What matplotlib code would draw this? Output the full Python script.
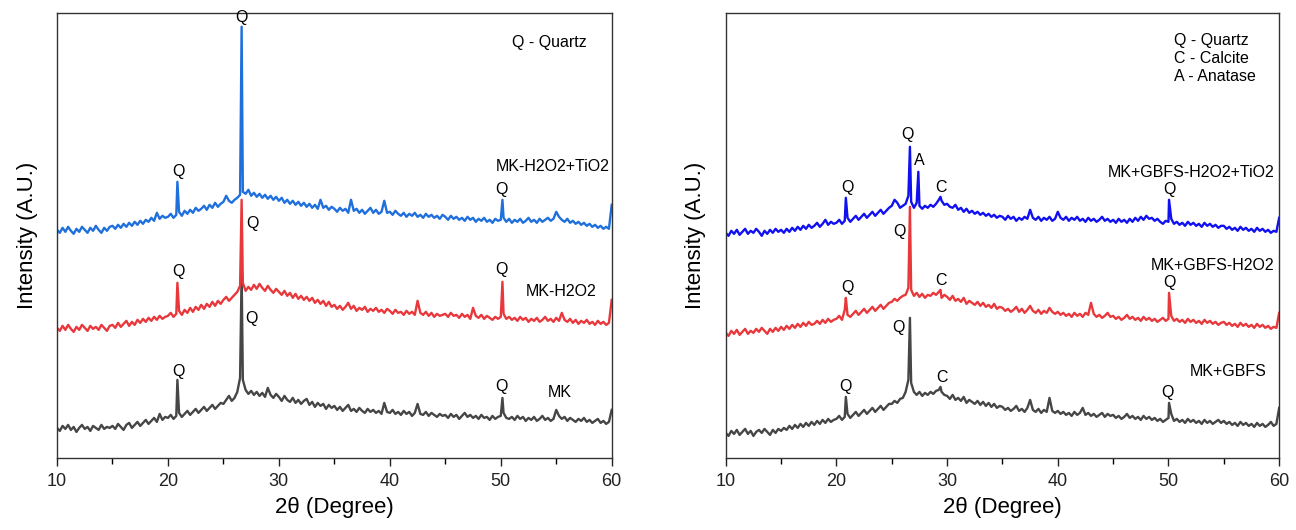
import numpy as np
import matplotlib
matplotlib.use("Agg")
import matplotlib.pyplot as plt

plt.rcParams['font.family'] = ['Liberation Sans', 'DejaVu Sans']

# 2theta grid (deg), 0.25 step, and intensities (A.U.)
two_theta = np.arange(10, 60.001, 0.25)

# ---- left panel ----
mk = [
    30, 27, 32, 29, 33, 28, 31, 26, 30, 33, 29, 31, 27, 32, 30, 28, 33, 29, 31, 30,
    32, 29, 34, 31, 28, 33, 35, 30, 33, 36, 32, 35, 38, 34, 37, 40, 36, 44, 38, 41,
    40, 43, 39, 42, 45, 41, 44, 47, 43, 46, 49, 45, 48, 51, 47, 50, 53, 49, 52, 55,
    54, 58, 62, 57, 60, 66, 80, 78, 68, 64, 67, 63, 66, 62, 65, 61, 70, 63, 60, 64,
    61, 57, 62, 58, 56, 60, 55, 58, 54, 57, 59, 53, 56, 51, 55, 52, 54, 49, 53, 50,
    52, 48, 51, 47, 50, 53, 47, 49, 46, 50, 47, 45, 49, 46, 48, 45, 47, 44, 55, 46,
    45, 48, 44, 46, 43, 47, 44, 46, 42, 45, 54, 44, 43, 46, 42, 45, 43, 41, 44, 42,
    43, 40, 44, 41, 43, 39, 42, 45, 41, 43, 40, 42, 39, 43, 40, 41, 38, 42, 39, 41,
    42, 45, 40, 39, 41, 38, 42, 39, 41, 37, 40, 38, 41, 37, 39, 42, 38, 40, 37, 39,
    48, 42, 39, 41, 37, 40, 38, 36, 39, 37, 40, 36, 38, 35, 37, 39, 35, 37, 34, 36,
    48]
mk_peak_x = [20.85, 26.64, 50.15]
mk_peak_y = [78, 185, 60]

mk_h2o2 = [
    130, 127, 132, 128, 133, 129, 126, 131, 128, 133, 130, 127, 132, 129, 131, 128, 133, 130, 127, 132,
    133, 130, 135, 131, 134, 137, 132, 136, 133, 138, 135, 139, 136, 140, 137, 141, 138, 142, 139, 141,
    142, 145, 141, 144, 147, 143, 148, 145, 150, 146, 151, 148, 153, 149, 154, 151, 156, 152, 157, 154,
    158, 161, 157, 160, 163, 166, 172, 175, 167, 171, 168, 173, 169, 174, 170, 167, 172, 168, 165, 169,
    166, 163, 167, 162, 165, 160, 164, 159, 162, 158, 161, 157, 160, 155, 158, 154, 157, 152, 156, 151,
    153, 149, 152, 148, 151, 155, 149, 152, 147, 150, 148, 151, 146, 149, 147, 150, 146, 148, 145, 149,
    147, 144, 148, 145, 146, 143, 147, 144, 146, 143, 157, 145, 143, 146, 142, 145, 141, 144, 142, 143,
    144, 141, 145, 142, 143, 140, 144, 141, 143, 139, 150, 142, 140, 143, 139, 142, 140, 138, 141, 139,
    141, 144, 139, 141, 138, 140, 137, 141, 138, 140, 136, 139, 137, 140, 136, 138, 141, 137, 139, 136,
    140, 137, 145, 138, 136, 139, 135, 138, 134, 137, 135, 138, 134, 136, 133, 137, 134, 136, 133, 135,
    158]
mk_h2o2_peak_x = [20.85, 26.64, 50.15]
mk_h2o2_peak_y = [175, 258, 176]

mk_h2o2_tio2 = [
    228, 225, 230, 226, 231, 227, 224, 229, 226, 231, 228, 225, 230, 227, 232, 228, 225, 230, 227, 231,
    232, 229, 233, 230, 234, 231, 235, 232, 236, 233, 237, 234, 238, 236, 240, 237, 245, 239, 242, 240,
    241, 244, 240, 243, 246, 242, 247, 244, 248, 245, 250, 247, 249, 252, 248, 253, 250, 255, 251, 254,
    256, 262, 257, 255, 258, 260, 263, 266, 264, 268, 262, 265, 261, 264, 260, 263, 259, 262, 258, 261,
    257, 260, 255, 258, 254, 257, 253, 256, 252, 255, 251, 254, 250, 253, 249, 258, 250, 252, 248, 251,
    249, 246, 250, 247, 249, 245, 258, 247, 249, 245, 248, 244, 247, 250, 245, 248, 244, 246, 257, 245,
    246, 243, 247, 244, 242, 245, 241, 244, 242, 245, 241, 243, 240, 244, 241, 243, 240, 242, 239, 243,
    241, 238, 242, 239, 241, 238, 240, 237, 241, 238, 240, 236, 239, 237, 240, 236, 238, 235, 239, 237,
    238, 240, 236, 239, 235, 238, 236, 239, 235, 237, 240, 236, 238, 235, 239, 236, 238, 240, 237, 239,
    246, 241, 238, 236, 239, 235, 237, 234, 236, 233, 235, 232, 234, 231, 233, 230, 232, 229, 231, 229,
    253]
mk_h2o2_tio2_peak_x = [20.85, 26.64, 50.15]
mk_h2o2_tio2_peak_y = [276, 431, 258]

# ---- right panel ----
gb = [
    25, 22, 27, 24, 28, 23, 26, 29, 24, 27, 22, 26, 28, 25, 29, 26, 23, 28, 25, 29,
    27, 30, 28, 32, 29, 33, 30, 34, 31, 35, 32, 36, 33, 37, 34, 38, 35, 39, 36, 38,
    39, 42, 38, 41, 44, 40, 43, 46, 42, 45, 48, 44, 47, 50, 46, 49, 52, 48, 51, 54,
    54, 57, 55, 59, 60, 66, 78, 75, 66, 63, 66, 62, 65, 63, 66, 64, 67, 68, 66, 63,
    62, 59, 63, 58, 60, 57, 61, 55, 58, 56, 54, 57, 53, 56, 52, 55, 51, 54, 50, 52,
    51, 48, 50, 47, 49, 52, 47, 49, 46, 50, 58, 48, 46, 49, 45, 48, 46, 60, 47, 45,
    47, 44, 46, 43, 45, 42, 46, 43, 45, 50, 43, 45, 42, 44, 41, 43, 45, 41, 44, 42,
    43, 40, 42, 39, 41, 44, 40, 42, 39, 41, 38, 42, 39, 41, 38, 40, 37, 39, 36, 38,
    40, 44, 37, 39, 36, 38, 35, 39, 36, 38, 35, 37, 34, 38, 35, 37, 34, 36, 38, 35,
    37, 34, 36, 33, 35, 32, 36, 33, 35, 32, 34, 31, 35, 32, 34, 31, 33, 36, 32, 34,
    50]
gb_peak_x = [20.85, 26.64, 29.4, 50.05]
gb_peak_y = [61, 140, 71, 55]

gb_h2o2 = [
    125, 122, 127, 124, 128, 123, 126, 129, 124, 127, 125, 129, 126, 130, 127, 124, 129, 126, 130, 127,
    131, 128, 132, 129, 133, 130, 134, 131, 135, 132, 136, 133, 134, 137, 134, 138, 135, 139, 136, 138,
    139, 142, 138, 148, 143, 141, 144, 147, 143, 146, 149, 145, 148, 151, 147, 150, 153, 149, 152, 155,
    156, 159, 157, 160, 162, 163, 170, 168, 162, 165, 161, 164, 160, 163, 162, 165, 163, 166, 160, 163,
    161, 158, 162, 157, 159, 156, 160, 154, 157, 155, 153, 156, 152, 155, 151, 153, 150, 154, 149, 151,
    150, 147, 149, 146, 148, 151, 146, 149, 145, 148, 152, 147, 145, 148, 144, 147, 145, 150, 146, 144,
    146, 143, 145, 142, 144, 141, 145, 142, 144, 141, 145, 143, 155, 144, 141, 143, 140, 142, 145, 141,
    142, 139, 141, 138, 140, 143, 139, 141, 138, 140, 137, 141, 138, 140, 137, 139, 136, 138, 140, 137,
    139, 142, 137, 139, 136, 138, 135, 139, 136, 138, 135, 137, 134, 138, 135, 137, 134, 136, 133, 135,
    136, 133, 135, 132, 134, 131, 135, 132, 134, 131, 133, 130, 134, 131, 133, 130, 132, 129, 131, 130,
    145]
gb_h2o2_peak_x = [20.85, 26.64, 29.4, 50.05]
gb_h2o2_peak_y = [160, 251, 168, 165]

gb_h2o2_tio2 = [
    225, 222, 227, 224, 228, 223, 226, 229, 224, 227, 225, 229, 226, 222, 227, 224, 228, 225, 229, 226,
    228, 225, 229, 226, 230, 227, 231, 228, 232, 229, 233, 230, 232, 235, 231, 234, 238, 233, 236, 234,
    235, 238, 234, 237, 240, 236, 239, 242, 238, 241, 244, 240, 243, 246, 242, 245, 248, 244, 247, 250,
    252, 258, 255, 250, 252, 254, 262, 256, 250, 255, 252, 249, 252, 250, 253, 251, 254, 258, 257, 253,
    254, 251, 250, 253, 248, 250, 246, 249, 245, 247, 244, 246, 243, 245, 242, 244, 241, 243, 240, 242,
    241, 238, 242, 239, 241, 237, 240, 238, 241, 239, 248, 240, 238, 241, 237, 240, 238, 241, 237, 239,
    246, 240, 238, 241, 237, 240, 238, 241, 237, 239, 236, 240, 237, 239, 236, 238, 241, 237, 239, 236,
    238, 235, 239, 236, 238, 235, 239, 236, 240, 237, 241, 238, 242, 239, 240, 237, 239, 236, 234, 237,
    236, 239, 234, 236, 233, 235, 232, 236, 233, 235, 232, 234, 231, 235, 232, 234, 231, 233, 230, 232,
    232, 229, 231, 228, 230, 227, 231, 228, 230, 227, 229, 226, 230, 227, 229, 226, 228, 225, 227, 226,
    240]
gb_h2o2_tio2_peak_x = [20.85, 26.64, 27.4, 29.4, 50.05]
gb_h2o2_tio2_peak_y = [260, 311, 286, 261, 258]

grey = '#464646'
red = '#e8383c'
blue_l = '#1f6fdc'
blue_r = '#1010f0'


def trace(y, px, py):
    # merge the grid with the peak tips
    x = np.concatenate([two_theta, px])
    v = np.concatenate([np.asarray(y, float), py])
    order = np.argsort(x)
    return x[order], v[order]


fig = plt.figure(figsize=(12.96, 5.30), dpi=100)
ax1 = fig.add_axes([0.044, 0.136, 0.428, 0.840])
ax2 = fig.add_axes([0.560, 0.136, 0.427, 0.840])

left_series = [(mk, mk_peak_x, mk_peak_y, grey),
               (mk_h2o2, mk_h2o2_peak_x, mk_h2o2_peak_y, red),
               (mk_h2o2_tio2, mk_h2o2_tio2_peak_x, mk_h2o2_tio2_peak_y, blue_l)]
right_series = [(gb, gb_peak_x, gb_peak_y, grey),
                (gb_h2o2, gb_h2o2_peak_x, gb_h2o2_peak_y, red),
                (gb_h2o2_tio2, gb_h2o2_tio2_peak_x, gb_h2o2_tio2_peak_y, blue_r)]

for ax, series in [(ax1, left_series), (ax2, right_series)]:
    for y, px, py, c in series:
        assert len(y) == len(two_theta)
        xs, ys = trace(y, px, py)
        ax.plot(xs, ys, color=c, lw=1.7)
    ax.set_xlim(10, 60)
    ax.set_ylim(0, 445)
    ax.set_xticks(range(10, 61, 10))
    ax.set_xticks(range(15, 60, 10), minor=True)
    ax.set_yticks([])
    ax.tick_params(axis='x', which='major', length=6, width=1, labelsize=13,
                   colors='#222222', pad=5)
    ax.tick_params(axis='x', which='minor', length=4, width=1)
    for s in ax.spines.values():
        s.set_color('#333333')
        s.set_linewidth(1)
    ax.set_xlabel('2θ (Degree)', fontsize=16, labelpad=5)
    ax.set_ylabel('Intensity (A.U.)', fontsize=16, labelpad=14)

fs = 11.5
# left annotations
ax1.text(51.0, 415, 'Q - Quartz', fontsize=fs, va='center')
for x, y in [(26.6, 440), (20.9, 286), (50.1, 268),
             (27.65, 234), (20.9, 186), (50.1, 188),
             (27.5, 139), (20.9, 86), (50.1, 71)]:
    ax1.text(x, y, 'Q', fontsize=fs, ha='center', va='center')
ax1.text(59.8, 291, 'MK-H2O2+TiO2', fontsize=fs, ha='right', va='center')
ax1.text(58.6, 166, 'MK-H2O2', fontsize=fs, ha='right', va='center')
ax1.text(55.3, 65, 'MK', fontsize=fs, ha='center', va='center')

# right annotations
ax2.text(50.5, 399, 'Q - Quartz\nC - Calcite\nA - Anatase', fontsize=fs,
         va='center', linespacing=1.25)
for x, y, t in [(26.45, 323, 'Q'), (27.45, 297, 'A'), (20.95, 270, 'Q'),
                (29.45, 270, 'C'), (50.1, 268, 'Q'),
                (25.7, 226, 'Q'), (21.0, 170, 'Q'), (29.45, 177, 'C'), (50.1, 175, 'Q'),
                (25.6, 130, 'Q'), (20.8, 71, 'Q'), (29.5, 80, 'C'), (49.9, 65, 'Q')]:
    ax2.text(x, y, t, fontsize=fs, ha='center', va='center')
ax2.text(59.6, 285, 'MK+GBFS-H2O2+TiO2', fontsize=fs, ha='right', va='center')
ax2.text(59.6, 192, 'MK+GBFS-H2O2', fontsize=fs, ha='right', va='center')
ax2.text(58.9, 86, 'MK+GBFS', fontsize=fs, ha='right', va='center')

fig.savefig('out.png', dpi=100)
